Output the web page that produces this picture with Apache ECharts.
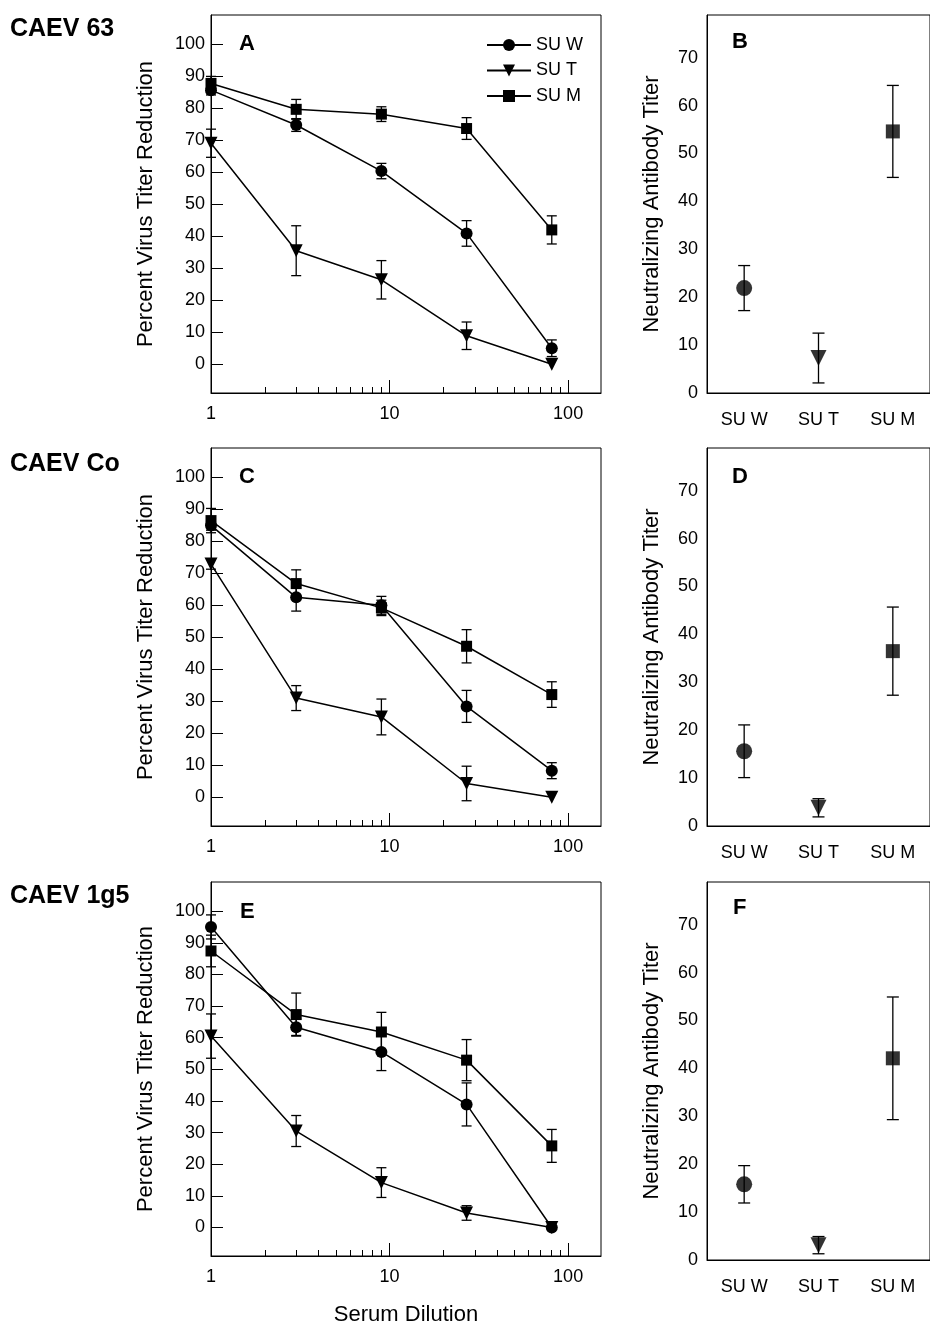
<!DOCTYPE html>
<html>
<head>
<meta charset="utf-8">
<title>CAEV SU neutralization</title>
<script src="https://cdn.jsdelivr.net/npm/echarts@6/dist/echarts.min.js"></script>
<style>
html, body { margin: 0; padding: 0; background: #fff; }
#chartmain { width: 930px; height: 1327px; }
</style>
</head>
<body>
<div id="chartmain"></div>
<script>
// x values of the dilution panels and axis ticks
var dilutions = [1, 3, 9, 27, 81];
var xMajorTicks = [1, 10, 100];
var xMinorTicks = [2, 3, 4, 5, 6, 7, 8, 9, 20, 30, 40, 50, 60, 70, 80, 90];
var pctTicks = [0, 10, 20, 30, 40, 50, 60, 70, 80, 90, 100];
var titerTicks = [0, 10, 20, 30, 40, 50, 60, 70];
var suNames = ['SU W', 'SU T', 'SU M'];

// A: CAEV 63, percent virus titer reduction (mean, error)
var a_W = [85.7, 74.8, 60.4, 40.9, 5.0];
var a_W_err = [1.5, 2.0, 2.4, 4.0, 2.6];
var a_T = [69.1, 35.5, 26.4, 8.9, 0];
var a_T_err = [4.4, 7.8, 6.0, 4.3, 0];
var a_M = [87.8, 79.7, 78.2, 73.7, 42.0];
var a_M_err = [2.2, 3.1, 2.3, 3.4, 4.4];

// C: CAEV Co
var c_W = [85.0, 62.5, 60.0, 28.4, 8.3];
var c_W_err = [1.5, 4.3, 2.8, 5.0, 2.5];
var c_T = [72.9, 31.0, 25.1, 4.3, 0];
var c_T_err = [1.6, 3.9, 5.6, 5.4, 0];
var c_M = [86.5, 66.8, 59.2, 47.2, 32.1];
var c_M_err = [3.8, 4.3, 2.4, 5.2, 4.0];

// E: CAEV 1g5
var e_W = [95.0, 63.3, 55.5, 38.9, 0];
var e_W_err = [3.8, 2.6, 5.9, 6.8, 0];
var e_T = [60.5, 30.5, 14.2, 4.6, 0];
var e_T_err = [7.0, 4.9, 4.7, 2.3, 0];
var e_M = [87.4, 67.3, 61.8, 52.9, 25.8];
var e_M_err = [5.0, 6.8, 6.2, 6.5, 5.2];

// B, D, F: neutralizing antibody titer for SU W, SU T, SU M
var b_titer = [21.9, 7.3, 54.6];
var b_err = [4.7, 5.2, 9.6];
var d_titer = [15.6, 3.8, 36.5];
var d_err = [5.5, 1.9, 9.2];
var f_titer = [15.8, 3.1, 42.1];
var f_err = [3.9, 1.8, 12.8];

var FONT = '"Liberation Sans", Arial, sans-serif';
var BLACK = '#000';
var symbols = ['circle', 'triangle', 'rect'];
var symbolRot = [0, 180, 0];
var smallSize = [12, 13, 11];
var bigSize = [16, 16, 14];

var rowTops = [15, 448, 882];
var rowTitles = ['CAEV 63', 'CAEV Co', 'CAEV 1g5'];
var letters = [['A', 'B'], ['C', 'D'], ['E', 'F']];
var curves = [[a_W, a_T, a_M], [c_W, c_T, c_M], [e_W, e_T, e_M]];
var curveErrs = [[a_W_err, a_T_err, a_M_err], [c_W_err, c_T_err, c_M_err], [e_W_err, e_T_err, e_M_err]];
var titers = [b_titer, d_titer, f_titer];
var titerErrs = [b_err, d_err, f_err];

function errorBars(xi, yi, xs, vals, errs, capW) {
    var data = [];
    for (var i = 0; i < vals.length; i++) {
        if (errs[i] > 0) data.push([xs[i], vals[i] - errs[i], vals[i] + errs[i]]);
    }
    return {
        type: 'custom', xAxisIndex: xi, yAxisIndex: yi, data: data, z: 2, silent: true,
        encode: { x: 0, y: [1, 2] },
        renderItem: function (params, api) {
            var lo = api.coord([api.value(0), api.value(1)]);
            var hi = api.coord([api.value(0), api.value(2)]);
            var st = { stroke: BLACK, lineWidth: 1.3 };
            return {
                type: 'group', children: [
                    { type: 'line', shape: { x1: hi[0], y1: hi[1], x2: lo[0], y2: lo[1] }, style: st },
                    { type: 'line', shape: { x1: hi[0] - capW / 2, y1: hi[1], x2: hi[0] + capW / 2, y2: hi[1] }, style: st },
                    { type: 'line', shape: { x1: lo[0] - capW / 2, y1: lo[1], x2: lo[0] + capW / 2, y2: lo[1] }, style: st }
                ]
            };
        }
    };
}

var grids = [], xAxes = [], yAxes = [], series = [], titles = [];
var axisLine = { show: true, onZero: false, lineStyle: { color: BLACK, width: 1 } };
var labelStyle = { color: BLACK, fontFamily: FONT, fontSize: 18 };

// left column: dilution curves
for (var r = 0; r < 3; r++) {
    grids.push({ left: 211, width: 390, top: rowTops[r], height: 378, show: true, borderColor: BLACK, borderWidth: 1, backgroundColor: 'transparent' });
    var xi = xAxes.length;
    xAxes.push({
        type: 'log', logBase: 10, gridIndex: r, min: 1, max: 152.8, position: 'bottom',
        axisLine: axisLine, splitLine: { show: false },
        axisTick: { inside: true, length: 13, customValues: xMajorTicks, lineStyle: { color: BLACK } },
        axisLabel: Object.assign({ customValues: xMajorTicks, margin: 12 }, labelStyle),
        name: r === 2 ? 'Serum Dilution' : '', nameLocation: 'middle', nameGap: 48,
        nameTextStyle: { color: BLACK, fontFamily: FONT, fontSize: 22 }
    });
    xAxes.push({
        type: 'log', logBase: 10, gridIndex: r, min: 1, max: 152.8, position: 'bottom',
        axisLine: { show: false, onZero: false }, splitLine: { show: false }, axisLabel: { show: false },
        axisTick: { inside: true, length: 6, customValues: xMinorTicks, lineStyle: { color: BLACK } }
    });
    yAxes.push({
        type: 'value', gridIndex: r, min: -9, max: 109.2,
        axisLine: axisLine, splitLine: { show: false },
        axisTick: { inside: true, length: 12, customValues: pctTicks, lineStyle: { color: BLACK } },
        axisLabel: Object.assign({ customValues: pctTicks, margin: 6 }, labelStyle),
        name: 'Percent Virus Titer Reduction', nameLocation: 'middle', nameGap: 54,
        nameTextStyle: { color: BLACK, fontFamily: FONT, fontSize: 22 }
    });
    for (var s = 0; s < 3; s++) {
        var pts = dilutions.map(function (d, i) { return [d, curves[r][s][i]]; });
        series.push({
            type: 'line', name: suNames[s], xAxisIndex: xi, yAxisIndex: r, data: pts,
            symbol: symbols[s], symbolRotate: symbolRot[s], symbolSize: smallSize[s],
            lineStyle: { color: BLACK, width: 1.5 }, itemStyle: { color: BLACK },
            clip: false, z: 3, animation: false
        });
        series.push(errorBars(xi, r, dilutions, curves[r][s], curveErrs[r][s], 10));
    }
}

// right column: antibody titers
for (var r = 0; r < 3; r++) {
    var gi = grids.length;
    grids.push({ left: 707, width: 233, top: rowTops[r], height: 378, show: true, borderColor: BLACK, borderWidth: 1, backgroundColor: 'transparent' });
    var xi = xAxes.length;
    xAxes.push({
        type: 'category', gridIndex: gi, data: suNames, boundaryGap: true, position: 'bottom',
        axisLine: axisLine,
        axisTick: { alignWithLabel: true, length: 6, lineStyle: { color: BLACK } },
        axisLabel: Object.assign({ interval: 0, margin: 18 }, labelStyle)
    });
    var yi = yAxes.length;
    yAxes.push({
        type: 'value', gridIndex: gi, min: 0, max: 78.9,
        axisLine: axisLine, splitLine: { show: false },
        axisTick: { inside: true, length: 12, customValues: titerTicks, lineStyle: { color: BLACK } },
        axisLabel: Object.assign({ customValues: titerTicks, margin: 9 }, labelStyle),
        name: 'Neutralizing Antibody Titer', nameLocation: 'middle', nameGap: 44,
        nameTextStyle: { color: BLACK, fontFamily: FONT, fontSize: 22 }
    });
    for (var s = 0; s < 3; s++) {
        series.push({
            type: 'scatter', name: suNames[s], xAxisIndex: xi, yAxisIndex: yi,
            data: [[suNames[s], titers[r][s]]],
            symbol: symbols[s], symbolRotate: symbolRot[s], symbolSize: bigSize[s],
            itemStyle: { color: BLACK }, z: 3, animation: false
        });
    }
    series.push(errorBars(xi, yi, suNames, titers[r], titerErrs[r], 12));
}

// row titles and panel letters
var letterPos = [[[239, 33], [732, 31]], [[239, 466], [732, 466]], [[240, 901], [733, 897]]];
var rowTitleTop = [17, 452, 884];
for (var r = 0; r < 3; r++) {
    titles.push({ text: rowTitles[r], left: 10, top: rowTitleTop[r], padding: 0,
        textStyle: { color: BLACK, fontFamily: FONT, fontSize: 25, fontWeight: 'bold' } });
    for (var c = 0; c < 2; c++) {
        titles.push({ text: letters[r][c], left: letterPos[r][c][0], top: letterPos[r][c][1], padding: 0,
            textStyle: { color: BLACK, fontFamily: FONT, fontSize: 22, fontWeight: 'bold' } });
    }
}

var chart = echarts.init(document.getElementById('chartmain'));
chart.setOption({
    backgroundColor: '#fff',
    animation: false,
    title: titles,
    legend: {
        data: suNames, orient: 'vertical', left: 481, top: 31,
        itemWidth: 44, itemHeight: 15, itemGap: 7.5, selectedMode: false,
        textStyle: { color: BLACK, fontFamily: FONT, fontSize: 18, lineHeight: 15 }
    },
    grid: grids,
    xAxis: xAxes,
    yAxis: yAxes,
    series: series
});
</script>
</body>
</html>
